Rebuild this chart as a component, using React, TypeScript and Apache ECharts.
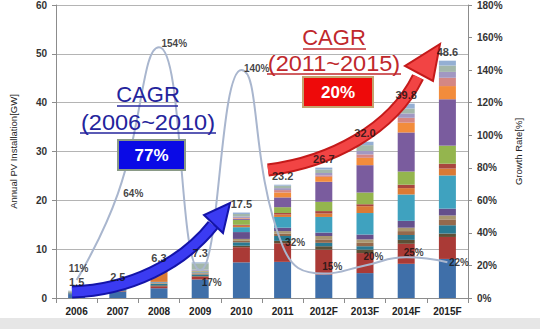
import React, { useEffect, useRef } from "react";
import * as echarts from "echarts";

const years = ["2006", "2007", "2008", "2009", "2010", "2011", "2012F", "2013F", "2014F", "2015F"];
const totals = [1.5, 2.5, 6.3, 7.3, 17.5, 23.2, 26.7, 32.0, 39.8, 48.6];
const growthRate = [11, 64, 154, 17, 140, 32, 15, 20, 25, 22];

const leftTicks = [0, 10, 20, 30, 40, 50, 60];
const rightTicks = [0, 20, 40, 60, 80, 100, 120, 140, 160, 180];

// stacked segments, bottom to top (GW)
const segBlue = [0.8, 1.3, 2.0, 3.8, 7.3, 7.4, 4.8, 5.1, 7.0, 8.0];
const segRed = [0.05, 0.1, 0.4, 0.6, 3.1, 3.8, 5.1, 4.1, 4.1, 4.5];
const segDark = [0.05, 0.1, 0.2, 0.1, 0.3, 0.5, 0.7, 0.7, 0.8, 0.7];
const segTeal = [0.2, 0.2, 0.3, 0.3, 0.7, 1.0, 0.7, 0.7, 1.0, 1.7];
const segBrown = [0.05, 0.1, 0.1, 0.2, 0.3, 0.5, 0.7, 0.7, 0.8, 1.2];
const segTan = [0.05, 0.1, 0.1, 0.1, 0.4, 0.5, 0.7, 0.7, 0.7, 0.8];
const segPurpleSmall = [0.05, 0.1, 0.1, 0.1, 1.4, 0.7, 0.7, 1.0, 1.4, 1.4];
const segAqua = [0, 0.1, 0.1, 0.1, 1.0, 2.2, 3.2, 4.4, 5.4, 6.8];
const segOrangeThin = [0, 0, 2.3, 0.1, 0.3, 0.5, 0.7, 1.4, 1.3, 1.4];
const segRedThin = [0, 0, 0, 0, 0.2, 0.3, 0.5, 0.4, 0.7, 1.0];
const segGreen = [0.05, 0.1, 0.1, 0.1, 1.0, 1.2, 1.9, 2.4, 2.7, 3.7];
const segPurple = [0, 0, 0, 0.1, 0.2, 2.0, 4.1, 5.6, 8.0, 9.5];
const segOrange = [0, 0, 0, 0, 0.1, 1.0, 1.0, 1.5, 2.0, 2.7];
const segRose = [0, 0, 0, 0, 0.1, 0.5, 0.3, 0.7, 1.0, 1.7];
const segLavender = [0.05, 0.1, 0.1, 0.2, 0.3, 0.4, 0.5, 0.7, 0.9, 1.2];
const segGrayGreen = [0.1, 0.1, 0.3, 1.3, 0.5, 0.5, 0.7, 1.2, 1.0, 1.3];
const segLightBlue = [0.05, 0.1, 0.2, 0.2, 0.3, 0.2, 0.4, 0.7, 1.0, 1.0];

const segments: [number[], string][] = [
  [segBlue, "#3F6FA9"],
  [segRed, "#AA3A36"],
  [segDark, "#5E5036"],
  [segTeal, "#2A7A92"],
  [segBrown, "#94694C"],
  [segTan, "#A99770"],
  [segPurpleSmall, "#65508C"],
  [segAqua, "#3FA2BF"],
  [segOrangeThin, "#DA7A35"],
  [segRedThin, "#A9463F"],
  [segGreen, "#94B54E"],
  [segPurple, "#7A5C9E"],
  [segOrange, "#F28C3C"],
  [segRose, "#D48784"],
  [segLavender, "#A198C2"],
  [segGrayGreen, "#A3B7AA"],
  [segLightBlue, "#94AFD3"],
];

const FONT = "'Liberation Sans', Arial, sans-serif";
const TFONT = "'Liberation Sans', Arial, sans-serif";

export default function App() {
  const ref = useRef<HTMLDivElement>(null);
  useEffect(() => {
    if (!ref.current) return;
    const chart = echarts.init(ref.current, undefined, { renderer: "svg" });

    const barSeries = segments.map(([vals, color], i) => ({
      name: "S" + (i + 1),
      type: "bar",
      stack: "total",
      barWidth: 17,
      yAxisIndex: 0,
      itemStyle: { color },
      data: vals,
      z: 2,
    }));

    const growthPlacement: any[] = [
      { position: "top", distance: 6, offset: [2, 0] },
      { position: "right", distance: 5, offset: [0, 0] },
      { position: "right", distance: 2, offset: [0, -4] },
      { position: "right", distance: 1, offset: [0, 12] },
      { position: "right", distance: 2, offset: [0, -2] },
      { position: "right", distance: 2, offset: [0, -3] },
      { position: "right", distance: 0, offset: [-2, -7] },
      { position: "right", distance: 0, offset: [-2, -9] },
      { position: "right", distance: 0, offset: [-3, -5] },
      { position: "right", distance: 1, offset: [0, 0] },
    ];

    const blueCurve = { x1: 72, y1: 292, cpx1: 130, cpy1: 290, cpx2: 182, cpy2: 264, x2: 213, y2: 225 };
    const redCurve = { x1: 268, y1: 170, cpx1: 330, cpy1: 162, cpx2: 392, cpy2: 130, x2: 418, y2: 77 };

    const titleText = (text: string, x: number, y: number, fill: string, sx: number) => ({
      type: "text",
      x,
      y,
      scaleX: sx,
      style: { text, fill, font: `22px ${TFONT}`, lineHeight: 22, textAlign: "center", textVerticalAlign: "middle" },
      z: 20,
    });

    const option: any = {
      animation: false,
      backgroundColor: "#ffffff",
      grid: { left: 50, right: 72, top: 4, bottom: 31 },
      xAxis: {
        type: "category",
        data: years,
        axisLine: { lineStyle: { color: "#8C8C8C", width: 1 } },
        axisTick: { show: true, alignWithLabel: false, length: 5, lineStyle: { color: "#8C8C8C" } },
        axisLabel: { color: "#222", fontFamily: FONT, fontWeight: "bold", fontSize: 10, margin: 8 },
      },
      yAxis: [
        {
          type: "value",
          min: 0,
          max: 60,
          interval: 10,
          name: "Annual PV Installation[GW]",
          nameLocation: "middle",
          nameGap: 38,
          nameTextStyle: { color: "#222", fontFamily: FONT, fontSize: 9.5 },
          axisLine: { show: true, lineStyle: { color: "#8C8C8C" } },
          axisTick: { show: true, length: 4, lineStyle: { color: "#8C8C8C" } },
          axisLabel: {
            color: "#333",
            fontFamily: FONT,
            fontWeight: "bold",
            fontSize: 10,
            margin: 9,
            formatter: (v: number) => (leftTicks.includes(v) ? String(v) : ""),
          },
          splitLine: { show: true, lineStyle: { color: "#B4B4B4", width: 1 } },
        },
        {
          type: "value",
          min: 0,
          max: 180,
          interval: 20,
          position: "right",
          name: "Growth Rate[%]",
          nameLocation: "middle",
          nameGap: 37,
          nameTextStyle: { color: "#222", fontFamily: FONT, fontSize: 9.5 },
          axisLine: { show: true, lineStyle: { color: "#8C8C8C" } },
          axisTick: { show: true, length: 4, lineStyle: { color: "#8C8C8C" } },
          axisLabel: {
            color: "#333",
            fontFamily: FONT,
            fontWeight: "bold",
            fontSize: 10,
            margin: 9,
            formatter: (v: number) => (rightTicks.includes(v) ? v + "%" : ""),
          },
          splitLine: { show: false },
        },
      ],
      series: [
        ...barSeries,
        {
          name: "Growth Rate",
          type: "line",
          yAxisIndex: 1,
          smooth: 0.5,
          showSymbol: false,
          symbol: "none",
          lineStyle: { color: "#A9B6CE", width: 2 },
          data: growthRate,
          z: 3,
        },
        {
          name: "GrowthLabels",
          type: "scatter",
          yAxisIndex: 1,
          symbolSize: 1,
          itemStyle: { color: "rgba(0,0,0,0)" },
          data: growthRate.map((v, i) => ({
            value: v,
            label: {
              show: true,
              formatter: v + "%",
              color: "#111",
              fontFamily: FONT,
              fontWeight: "bold",
              fontSize: 10,
              ...growthPlacement[i],
            },
          })),
          z: 10,
        },
        {
          name: "Totals",
          type: "scatter",
          yAxisIndex: 0,
          symbolSize: 1,
          itemStyle: { color: "rgba(0,0,0,0)" },
          label: {
            show: true,
            position: "top",
            distance: 3,
            color: "#111",
            fontFamily: FONT,
            fontWeight: "bold",
            fontSize: 11,
            formatter: (p: any) => Number(p.value).toFixed(1),
          },
          data: totals,
          z: 10,
        },
      ],
      graphic: [
        { type: "rect", shape: { x: 0, y: 318, width: 540, height: 11 }, style: { fill: "#E6E6E6" }, z: -10, silent: true },
        // blue arrow
        { type: "bezierCurve", shape: blueCurve, style: { stroke: "#1414A8", lineWidth: 13, fill: null }, z: 4 },
        { type: "bezierCurve", shape: blueCurve, style: { stroke: "#3B3BF2", lineWidth: 9, fill: null }, z: 4 },
        {
          type: "polygon",
          shape: { points: [[230, 203], [223, 233], [204, 215]] },
          style: { fill: "#3B3BF2", stroke: "#1414A8", lineWidth: 2 },
          z: 4,
        },
        // red arrow
        { type: "bezierCurve", shape: redCurve, style: { stroke: "#C41A1A", lineWidth: 13, fill: null }, z: 4 },
        { type: "bezierCurve", shape: redCurve, style: { stroke: "#F24444", lineWidth: 9, fill: null }, z: 4 },
        {
          type: "polygon",
          shape: { points: [[440, 44], [433, 81], [405, 66]] },
          style: { fill: "#F24444", stroke: "#C41A1A", lineWidth: 2 },
          z: 4,
        },
        // blue CAGR block
        titleText("CAGR", 148, 94, "#24249C", 1),
        { type: "line", shape: { x1: 117, y1: 106, x2: 178, y2: 106 }, style: { stroke: "#24249C", lineWidth: 1.5 }, z: 20 },
        titleText("(2006~2010)", 148, 122, "#24249C", 1.07),
        { type: "line", shape: { x1: 80, y1: 133, x2: 216, y2: 133 }, style: { stroke: "#24249C", lineWidth: 1.5 }, z: 20 },
        {
          type: "rect",
          shape: { x: 118, y: 140, width: 67, height: 30 },
          style: { fill: "#0A0AE6", stroke: "#8A9A86", lineWidth: 2 },
          z: 20,
        },
        {
          type: "text",
          x: 151.5,
          y: 155.5,
          style: { text: "77%", fill: "#ffffff", font: `bold 17px ${TFONT}`, textAlign: "center", textVerticalAlign: "middle" },
          z: 21,
        },
        // red CAGR block
        titleText("CAGR", 334, 37, "#C0282C", 1),
        { type: "line", shape: { x1: 303, y1: 49, x2: 366, y2: 49 }, style: { stroke: "#C0282C", lineWidth: 1.5 }, z: 20 },
        titleText("(2011~2015)", 334, 63, "#C0282C", 1.07),
        { type: "line", shape: { x1: 267, y1: 74, x2: 401, y2: 74 }, style: { stroke: "#C0282C", lineWidth: 1.5 }, z: 20 },
        {
          type: "rect",
          shape: { x: 303, y: 77, width: 70, height: 30 },
          style: { fill: "#EE0A0A", stroke: "#C4A36E", lineWidth: 2 },
          z: 20,
        },
        {
          type: "text",
          x: 338,
          y: 92,
          style: { text: "20%", fill: "#ffffff", font: `bold 17px ${TFONT}`, textAlign: "center", textVerticalAlign: "middle" },
          z: 21,
        },
      ],
    };

    chart.setOption(option);
    return () => chart.dispose();
  }, []);

  return (
    <div
      ref={ref}
      style={{ position: "absolute", left: 0, top: 0, width: 540, height: 329, background: "#fff" }}
    />
  );
}
